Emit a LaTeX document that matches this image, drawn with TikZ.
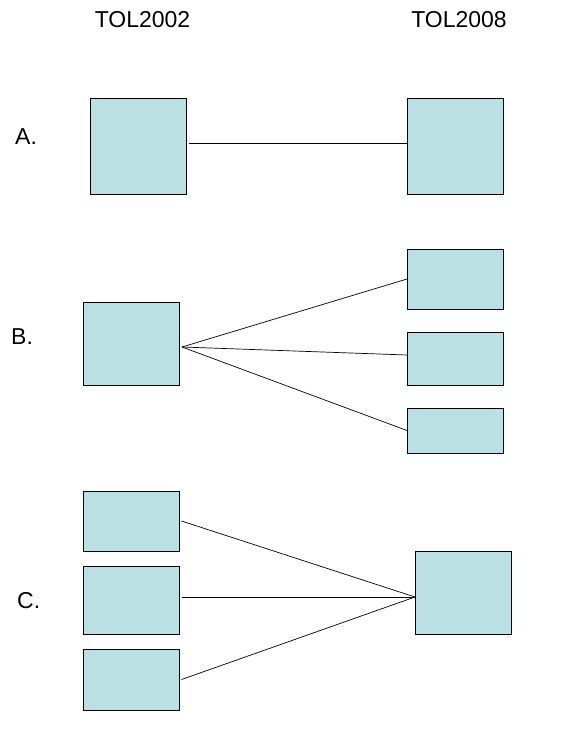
\documentclass[tikz,border=0pt]{standalone}
\usepackage{fontspec}
\setmainfont{Liberation Sans}
\definecolor{boxfill}{RGB}{187,224,227}
\begin{document}
\begin{tikzpicture}[x=1pt,y=-1pt,
  box/.style={draw=black, fill=boxfill, line width=0.8pt, inner sep=0pt, outer sep=0pt},
  conn/.style={draw=black, line width=0.7pt},
  lbl/.style={inner sep=0pt, font=\fontsize{23}{27}\selectfont}]
\useasboundingbox[fill=white] (0,0) rectangle (570,741);
% headers
\node[lbl, anchor=base] (h1) at (142.5,28) {TOL2002};
\node[lbl, anchor=base] (h2) at (459,28) {TOL2008};
% row labels
\node[lbl, anchor=base west] (la) at (15,144) {A.};
\node[lbl, anchor=base west] (lb) at (11,344) {B.};
\node[lbl, anchor=base west] (lc) at (17,608.5) {C.};
% A
\node[box, minimum width=96pt, minimum height=96pt] (a1) at (138,146) {};
\node[box, minimum width=96pt, minimum height=96pt] (a2) at (455,146) {};
\draw[conn] ([xshift=3pt,yshift=3pt]a1.east) -- ([yshift=3pt]a2.west);
% B
\node[box, minimum width=96pt, minimum height=83pt] (b1) at (131,343.5) {};
\node[box, minimum width=96pt, minimum height=60pt] (b2) at (455,279) {};
\node[box, minimum width=96pt, minimum height=53pt] (b3) at (455,358.5) {};
\node[box, minimum width=96pt, minimum height=45pt] (b4) at (455,430.5) {};
\coordinate (bo) at (182,347);
\draw[conn] (bo) -- (b2.west);
\draw[conn] (bo) -- ([yshift=3.5pt]b3.west);
\draw[conn] (bo) -- (b4.west);
% C
\node[box, minimum width=96pt, minimum height=60pt] (c1) at (131,521) {};
\node[box, minimum width=96pt, minimum height=68pt] (c2) at (131,600) {};
\node[box, minimum width=96pt, minimum height=61pt] (c3) at (131,679.5) {};
\node[box, minimum width=96pt, minimum height=83pt] (c4) at (463,592.5) {};
\coordinate (co) at (415,597);
\draw[conn] ([xshift=2.5pt]c1.east) -- (co);
\draw[conn] ([xshift=2.5pt,yshift=3pt]c2.east) -- (co);
\draw[conn] ([xshift=2.5pt]c3.east) -- (co);
\end{tikzpicture}
\end{document}
